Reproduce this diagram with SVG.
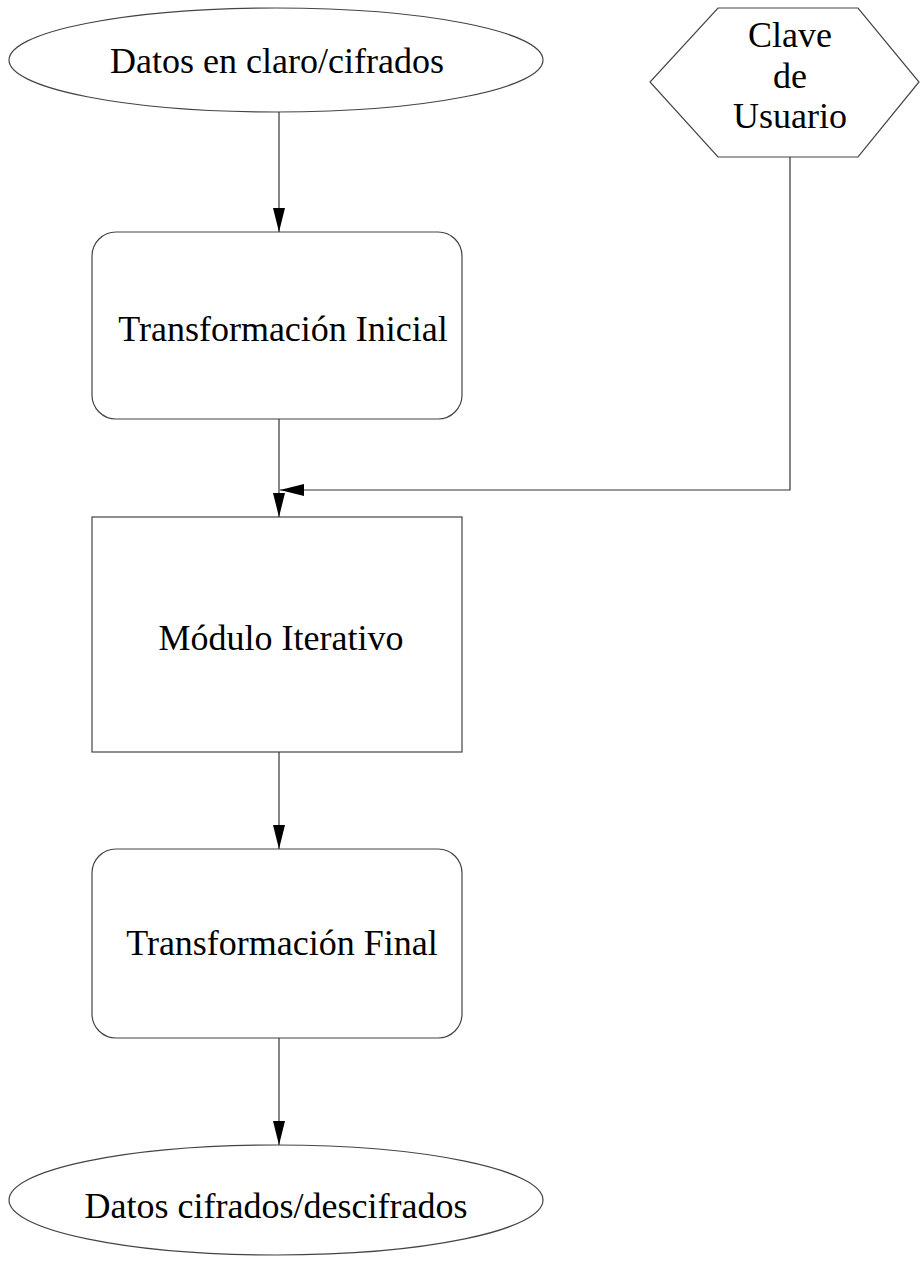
<svg xmlns="http://www.w3.org/2000/svg" width="920" height="1263" viewBox="0 0 920 1263">
<style>
.s{fill:#fff;stroke:#444;stroke-width:1.2}
.t{font-family:"Liberation Serif","Times New Roman",serif;font-size:36px;fill:#000;text-anchor:middle}
.c{fill:none;stroke:#333;stroke-width:1.2}
</style>
<defs>
<marker id="ah" viewBox="0 0 24 12" refX="24" refY="6" markerWidth="24" markerHeight="12" markerUnits="userSpaceOnUse" orient="auto">
<path d="M0,0 L24,6 L0,12 Z" fill="#000"/>
</marker>
</defs>
<rect width="920" height="1263" fill="#fff"/>
<g id="n1"><ellipse class="s" cx="276" cy="60" rx="267" ry="52"/><text class="t" x="277" y="73">Datos en claro/cifrados</text></g>
<g id="n2"><polygon class="s" points="718,8 858,8 919,82 858,157 718,157 650,82"/><text class="t" x="790" y="47">Clave</text><text class="t" x="790" y="88">de</text><text class="t" x="790" y="128">Usuario</text></g>
<g id="n3"><rect class="s" x="92" y="232" width="370" height="187" rx="24"/><text class="t" x="283" y="341">Transformación Inicial</text></g>
<g id="n4"><rect class="s" x="92" y="517" width="370" height="235"/><text class="t" x="281" y="650">Módulo Iterativo</text></g>
<g id="n5"><rect class="s" x="92" y="849" width="370" height="189" rx="24"/><text class="t" x="282" y="955">Transformación Final</text></g>
<g id="n6"><ellipse class="s" cx="276" cy="1200" rx="267" ry="55"/><text class="t" x="276" y="1218">Datos cifrados/descifrados</text></g>
<g id="connectors">
<line class="c" x1="279" y1="112" x2="279" y2="232" marker-end="url(#ah)"/>
<line class="c" x1="279" y1="419" x2="279" y2="517" marker-end="url(#ah)"/>
<polyline class="c" points="790,157 790,490 280,490" marker-end="url(#ah)"/>
<line class="c" x1="279" y1="752" x2="279" y2="849" marker-end="url(#ah)"/>
<line class="c" x1="279" y1="1038" x2="279" y2="1145" marker-end="url(#ah)"/>
</g>
</svg>
